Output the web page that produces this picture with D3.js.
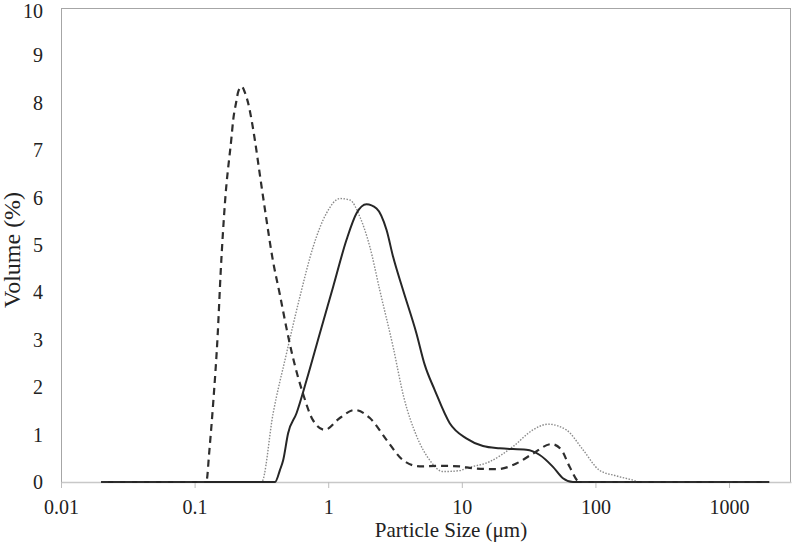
<!DOCTYPE html>
<html>
<head>
<meta charset="utf-8">
<script src="https://cdn.jsdelivr.net/npm/d3@7"></script>
<style>
  html, body { margin: 0; padding: 0; background: #fff; }
  svg text { font-family: 'Liberation Serif', 'Times New Roman', Times, serif !important; fill: #222; }
</style>
</head>
<body>
<svg id="chart" width="793" height="550"></svg>
<script>
// ---- data (particle size in µm, volume in %) ----
const dashedX = [0.02, 0.12, 0.123, 0.1285, 0.1377, 0.1486, 0.157, 0.1686, 0.189, 0.1945, 0.204, 0.213, 0.225, 0.2377, 0.2518, 0.2668, 0.283, 0.308, 0.341, 0.385, 0.435, 0.490, 0.543, 0.645, 0.767, 0.942, 1.222, 1.58, 2.05, 2.73, 3.63, 4.84, 6.84, 9.64, 12.1, 18.2, 25.6, 34.1, 46.8, 55.6, 64.1, 76.2, 2000];
const dashedY = [0, 0, 0.03, 0.61, 1.66, 3.07, 4.47, 5.88, 7.28, 7.64, 7.99, 8.25, 8.34, 8.22, 7.99, 7.64, 7.2, 6.48, 5.63, 4.68, 3.95, 3.21, 2.64, 1.88, 1.31, 1.10, 1.35, 1.52, 1.35, 0.89, 0.46, 0.33, 0.34, 0.33, 0.29, 0.27, 0.39, 0.60, 0.80, 0.68, 0.32, 0, 0];

const dottedX = [0.02, 0.317, 0.387, 0.488, 0.614, 0.771, 0.970, 1.222, 1.452, 1.723, 2.05, 2.43, 3.06, 3.67, 4.60, 5.75, 7.23, 9.64, 10.8, 16.2, 24.2, 34.1, 44.2, 60.5, 80.7, 107, 143, 191, 214, 2000];
const dottedY = [0, 0, 1.45, 2.72, 3.91, 4.96, 5.67, 5.98, 5.95, 5.60, 4.96, 4.05, 2.85, 1.80, 0.96, 0.46, 0.22, 0.24, 0.29, 0.43, 0.75, 1.10, 1.22, 1.10, 0.68, 0.25, 0.13, 0.04, 0, 0];

const solidX = [0.02, 0.40, 0.435, 0.460, 0.501, 0.579, 0.689, 0.866, 1.089, 1.371, 1.629, 1.934, 2.30, 2.73, 3.06, 3.63, 4.57, 5.28, 6.27, 8.12, 10.8, 14.4, 19.2, 30.4, 38.3, 48.1, 57.1, 67.9, 2000];
const solidY = [0, 0, 0.25, 0.46, 1.03, 1.45, 2.15, 3.14, 4.12, 5.11, 5.67, 5.86, 5.77, 5.32, 4.75, 4.05, 3.14, 2.47, 1.94, 1.24, 0.92, 0.76, 0.71, 0.68, 0.57, 0.32, 0.08, 0, 0];

const xTicks = [0.01, 0.1, 1, 10, 100, 1000];
const xTickLabels = ["0.01", "0.1", "1", "10", "100", "1000"];
const yTicks = [0, 1, 2, 3, 4, 5, 6, 7, 8, 9, 10];

// ---- layout ----
const FONT = "'Liberation Serif', 'Times New Roman', Times, serif";
const svg = d3.select("#chart");
const mLeft = 61, mRight = 791, mTop = 8, mBottom = 482;
const xMax = Math.pow(10, 3 + (mRight - 729) / 133.7);

const x = d3.scaleLog().domain([0.01, xMax]).range([mLeft, mRight]);
const y = d3.scaleLinear().domain([0, 10]).range([mBottom, mTop]);

// plot frame
svg.append("rect")
  .attr("x", mLeft + 0.5).attr("y", mTop + 0.5)
  .attr("width", mRight - mLeft - 1).attr("height", mBottom - mTop)
  .attr("fill", "none").attr("stroke", "#a6a6a6").attr("stroke-width", 1);

// x axis
const xAxis = d3.axisBottom(x)
  .tickValues(xTicks)
  .tickFormat((d, i) => xTickLabels[i])
  .tickSizeInner(6).tickSizeOuter(0).tickPadding(12);
const gx = svg.append("g").attr("transform", `translate(0,${mBottom})`).call(xAxis)
  .attr("font-family", FONT).attr("font-size", 20);
gx.select(".domain").attr("stroke", "#c8c8c8").attr("stroke-width", 1.5);
gx.selectAll(".tick line").attr("stroke", "#bdbdbd");
gx.selectAll(".tick text").attr("fill", "#222").style("font-family", FONT);

// y axis (labels only)
const yAxis = d3.axisLeft(y).tickValues(yTicks).tickSize(0).tickPadding(18);
const gy = svg.append("g").attr("transform", `translate(${mLeft},0)`).call(yAxis)
  .attr("font-family", FONT).attr("font-size", 20);
gy.select(".domain").remove();
gy.selectAll(".tick text").attr("fill", "#222").style("font-family", FONT)
  .attr("dy", (d) => d === 10 ? "0.475em" : "0.32em");

// axis titles
svg.append("text")
  .attr("x", 451).attr("y", 537)
  .attr("text-anchor", "middle").attr("font-size", 21).style("font-family", FONT)
  .text("Particle Size (μm)");
svg.append("text")
  .attr("transform", "translate(20,250) rotate(-90)")
  .attr("text-anchor", "middle").attr("font-size", 24).style("font-family", FONT)
  .text("Volume (%)");

// lines
const line = d3.line()
  .x(d => x(d[0]))
  .y(d => y(d[1]))
  .curve(d3.curveMonotoneX);

const series = [
  { xs: dottedX, ys: dottedY, stroke: "#8a8a8a", width: 1.4, dash: "1.5,1.5" },
  { xs: solidX, ys: solidY, stroke: "#262626", width: 2, dash: null },
  { xs: dashedX, ys: dashedY, stroke: "#2e2e2e", width: 2.2, dash: "7,5" }
];

series.forEach(s => {
  const pts = s.xs.map((v, i) => [v, s.ys[i]]);
  svg.append("path")
    .datum(pts)
    .attr("d", line)
    .attr("fill", "none")
    .attr("stroke", s.stroke)
    .attr("stroke-width", s.width)
    .attr("stroke-dasharray", s.dash)
    .attr("stroke-linejoin", "round");
});
</script>
</body>
</html>
